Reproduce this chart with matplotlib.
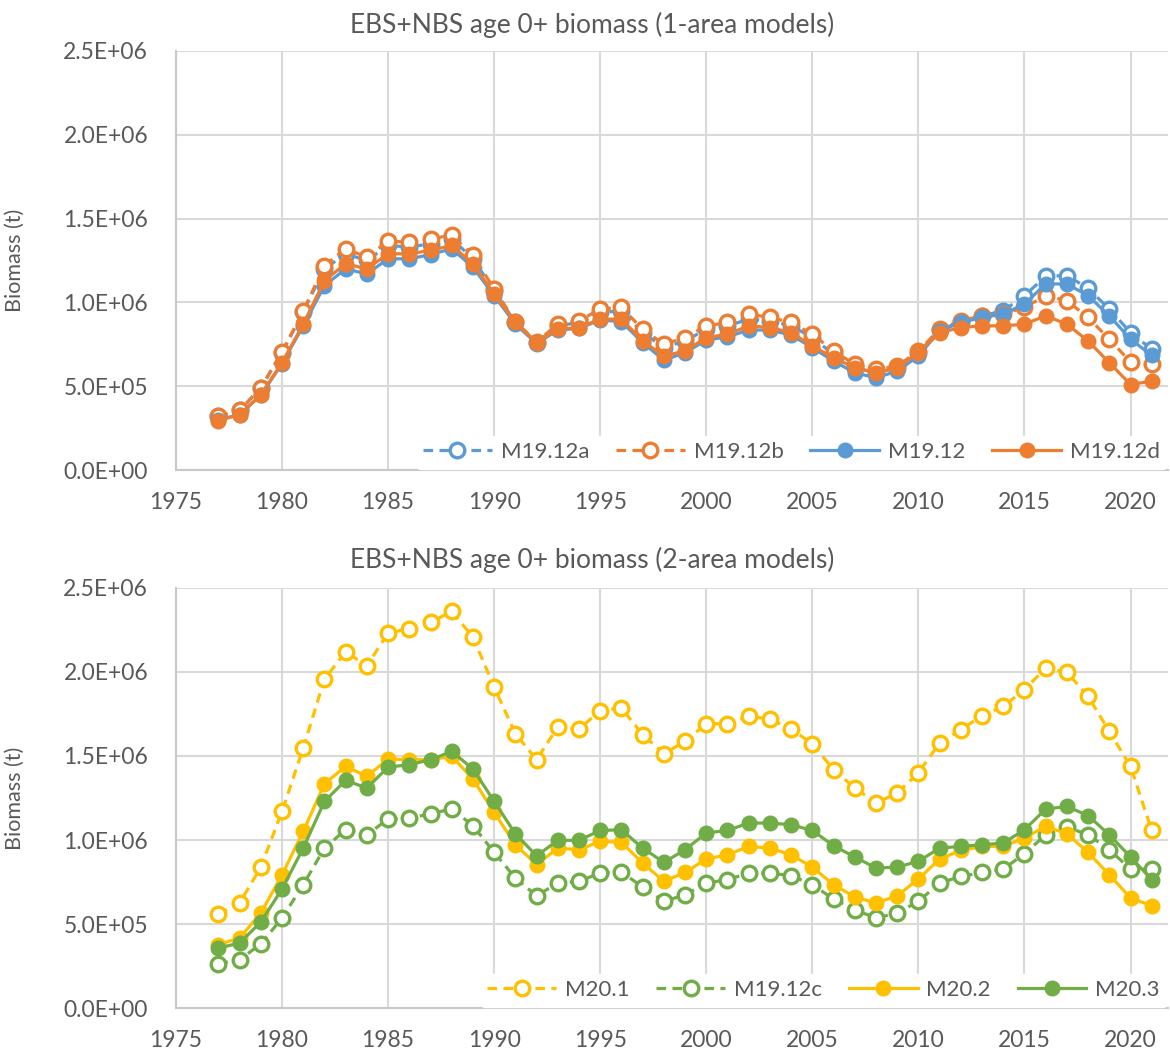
import matplotlib
matplotlib.use("Agg")
import matplotlib.pyplot as plt
from matplotlib.ticker import FuncFormatter

plt.rcParams['font.family'] = ['Lato', 'DejaVu Sans']

years = list(range(1977, 2022))

# 1-area models (thousand t)
m1912a = [320, 355, 490, 700, 945, 1200, 1290, 1250, 1340, 1330, 1350, 1380, 1260, 1070,
          880, 760, 860, 880, 940, 950, 820, 730, 770, 840, 860, 900, 890, 860, 790, 690,
          610, 580, 610, 700, 835, 885, 920, 950, 1040, 1156, 1160, 1084, 960, 820, 720]
m1912b = [320, 355, 490, 705, 950, 1220, 1320, 1270, 1365, 1360, 1380, 1400, 1280, 1080,
          885, 765, 870, 890, 960, 970, 840, 750, 790, 860, 880, 930, 910, 880, 810, 710,
          630, 600, 620, 710, 840, 890, 920, 930, 970, 1040, 1010, 910, 780, 644, 630]
m1912 = [300, 330, 445, 635, 860, 1100, 1200, 1170, 1260, 1260, 1285, 1320, 1210, 1040,
         870, 755, 835, 845, 895, 885, 760, 655, 700, 775, 795, 835, 835, 805, 730, 650,
         580, 550, 590, 680, 830, 880, 910, 930, 990, 1110, 1110, 1040, 920, 780, 684]
m1912d = [295, 330, 450, 640, 870, 1130, 1230, 1200, 1290, 1290, 1310, 1340, 1230, 1050,
          880, 760, 840, 850, 900, 900, 770, 680, 710, 790, 810, 860, 850, 820, 740, 670,
          610, 580, 610, 700, 820, 850, 860, 860, 870, 920, 870, 770, 640, 510, 530]

# 2-area models (thousand t)
m201 = [560, 625, 839, 1170, 1548, 1958, 2120, 2037, 2232, 2256, 2295, 2360, 2208, 1910,
        1633, 1478, 1673, 1660, 1770, 1786, 1627, 1514, 1587, 1692,
        1692, 1736, 1720, 1660, 1573, 1418, 1310, 1220, 1280, 1400,
        1577, 1657, 1740, 1795, 1895, 2024, 1998, 1855, 1646, 1438, 1057]
m1912c = [264, 288, 381, 536, 734, 952, 1061, 1031, 1125, 1131, 1155, 1186, 1085, 926,
          774, 668, 744, 754, 804, 810, 720, 635, 674, 744,
          764, 803, 803, 788, 734, 649, 585, 536, 565, 635,
          744, 783, 807, 827, 918, 1031, 1077, 1031, 942, 827, 827]
m202 = [377, 417, 565, 793, 1051, 1335, 1438, 1379, 1482, 1478, 1478, 1498, 1363, 1164,
        972, 853, 952, 942, 992, 986, 863, 754, 807, 887,
        912, 962, 952, 912, 839, 734, 661, 625, 668, 768,
        887, 938, 962, 962, 1012, 1081, 1037, 926, 793, 655, 609]
m203 = [357, 387, 512, 708, 952, 1230, 1355, 1309, 1434, 1448, 1478, 1527, 1423, 1230,
        1037, 906, 998, 998, 1057, 1061, 952, 867, 942, 1042,
        1057, 1101, 1101, 1091, 1057, 966, 899, 833, 839, 873,
        952, 962, 972, 982, 1061, 1184, 1200, 1145, 1031, 899, 764]

BLUE = '#5B9BD5'
ORANGE = '#ED7D31'
YELLOW = '#FFC000'
GREEN = '#70AD47'
TXT = '#595959'
GRID = '#D9D9D9'

top_series = [("M19.12a", m1912a, BLUE, True), ("M19.12b", m1912b, ORANGE, True),
              ("M19.12", m1912, BLUE, False), ("M19.12d", m1912d, ORANGE, False)]
bot_series = [("M20.1", m201, YELLOW, True), ("M19.12c", m1912c, GREEN, True),
              ("M20.2", m202, YELLOW, False), ("M20.3", m203, GREEN, False)]

fig = plt.figure(figsize=(11.7, 10.55), dpi=100)
ax1 = fig.add_axes([0.1504, 0.5545, 0.8476, 0.3972])
ax2 = fig.add_axes([0.1504, 0.0445, 0.8476, 0.3982])


def draw(ax, series, title, ty):
    for name, vals, col, hollow in series:
        v = [x * 1000 for x in vals]
        if hollow:
            ax.plot(years, v, color=col, lw=2.3, ls=(0, (3, 2)), marker='o', ms=10.5,
                    mfc='white', mec=col, mew=2.4, label=name)
        else:
            ax.plot(years, v, color=col, lw=2.3, marker='o', ms=10.5,
                    mfc=col, mec=col, label=name)
    ax.set_xlim(1975, 2021.75)
    ax.set_ylim(0, 2.5e6)
    ax.set_xticks(range(1975, 2021, 5))
    ax.set_yticks([0, 5e5, 1e6, 1.5e6, 2e6, 2.5e6])
    ax.yaxis.set_major_formatter(FuncFormatter(lambda y, p: '{:.1E}'.format(y)))
    ax.grid(True, color=GRID, lw=1.5)
    ax.set_axisbelow(True)
    for s in ['top', 'right']:
        ax.spines[s].set_visible(False)
    for s in ['left', 'bottom']:
        ax.spines[s].set_color('#C8C8C8')
        ax.spines[s].set_linewidth(1.5)
    ax.tick_params(length=0, labelsize=16.5, labelcolor=TXT)
    ax.tick_params(axis='x', pad=16)
    ax.tick_params(axis='y', pad=20)
    ax.set_ylabel("Biomass (t)", fontsize=15.5, color=TXT)
    ax.yaxis.set_label_coords(-0.152, 0.5)
    leg = ax.legend(loc='lower right', ncol=4, fontsize=16, frameon=True,
                    handlelength=3.1, columnspacing=1.2, handletextpad=0.4,
                    borderaxespad=0.05, borderpad=0.3)
    leg.get_frame().set_facecolor('white')
    leg.get_frame().set_edgecolor('white')
    leg.get_frame().set_alpha(1)
    for t in leg.get_texts():
        t.set_color(TXT)
    fig.text(0.506, ty, title, ha='center', va='center', fontsize=19, color=TXT)


draw(ax1, top_series, "EBS+NBS age 0+ biomass (1-area models)", 0.976)
draw(ax2, bot_series, "EBS+NBS age 0+ biomass (2-area models)", 0.469)

fig.savefig("out.png", dpi=100)
